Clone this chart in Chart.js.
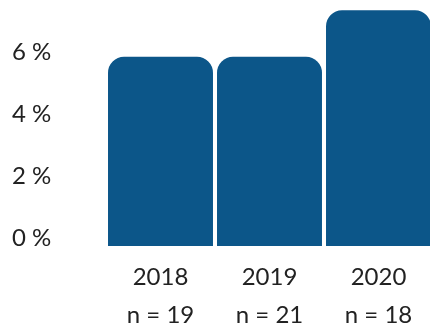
<!DOCTYPE html>
<html>
<head>
<meta charset="utf-8">
<script src="https://cdn.jsdelivr.net/npm/chart.js@4"></script>
<style>
  body { margin: 0; background: #fff; overflow: hidden; }
</style>
</head>
<body>
<canvas id="myChart" width="433" height="325"></canvas>
<script>
// data
const years = ['2018', '2019', '2020'];
const sampleSizes = ['n = 19', 'n = 21', 'n = 18'];
const shares = [6.1, 6.1, 7.6];
const yTicks = [0, 2, 4, 6];

const labels = years.map((y, i) => [y, sampleSizes[i]]);

const myChart = document.getElementById('myChart');

let barChart = new Chart(myChart, {
  type: 'bar',
  data: {
    labels: labels,
    datasets: [{
      data: shares,
      backgroundColor: '#0c5689',
      borderRadius: {topLeft: 16, topRight: 16, bottomLeft: 0, bottomRight: 0},
      borderSkipped: 'start',
      barPercentage: 0.963,
      categoryPercentage: 1
    }]
  },
  options: {
    responsive: false,
    animation: false,
    layout: {padding: {left: 12, top: 4, right: 0, bottom: 0}},
    plugins: {legend: {display: false}, tooltip: {enabled: false}},
    scales: {
      x: {
        grid: {display: false, drawTicks: false},
        border: {display: false},
        afterFit: scale => { scale.height = 79; },
        ticks: {color: '#222', font: {family: 'Lato', size: 24, lineHeight: 1.55}, padding: 13}
      },
      y: {
        min: 0,
        max: 7.8,
        grid: {display: false, drawTicks: false},
        border: {display: false},
        afterBuildTicks: scale => { scale.ticks = yTicks.map(v => ({value: v})); },
        afterFit: scale => {
          scale.width = 94;
          scale.paddingTop = 0;
          scale.paddingBottom = 0;
        },
        ticks: {
          color: '#222',
          font: {family: 'Lato', size: 24},
          crossAlign: 'far',
          labelOffset: -8,
          callback: v => v + ' %'
        }
      }
    }
  }
});
</script>
</body>
</html>
